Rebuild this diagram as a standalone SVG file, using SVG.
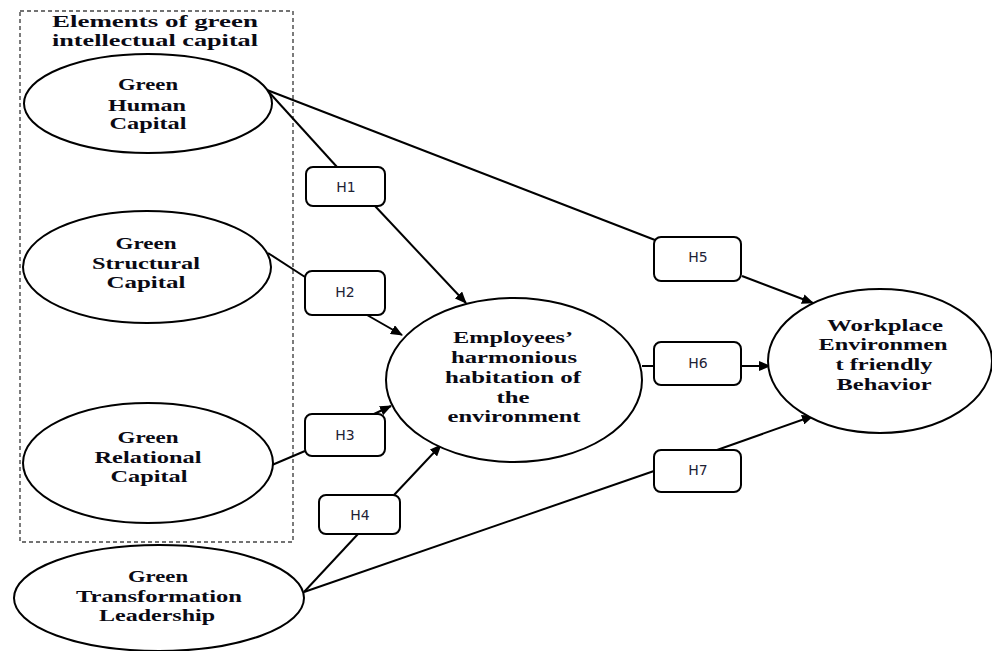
<svg xmlns="http://www.w3.org/2000/svg" width="992" height="651" viewBox="0 0 992 651">
<style>
.bg{fill:#fff}
.ell{fill:#fff;stroke:#000;stroke-width:2}
.box{fill:#fff;stroke:#000;stroke-width:2}
.lbl{font-family:"Liberation Serif","Times New Roman",serif;font-weight:bold;font-size:17px;fill:#0a0a14;text-anchor:middle}
.h{font-family:"DejaVu Sans","Liberation Sans",sans-serif;font-size:14px;fill:#1e2235;text-anchor:middle}
.con{fill:none;stroke:#000;stroke-width:2}
.group{fill:none;stroke:#444;stroke-width:1.4;stroke-dasharray:4 3}
</style>
<defs>
<marker id="arr" markerUnits="userSpaceOnUse" markerWidth="12" markerHeight="10" refX="11" refY="5" orient="auto">
<path d="M0,0 L12,5 L0,10 Z" fill="#000"/>
</marker>
</defs>
<rect class="bg" x="0" y="0" width="992" height="651"/>

<g id="group-box">
<rect class="group" x="20" y="11" width="273" height="531"/>
<text class="lbl" x="155" y="27" font-size="18" textLength="206" lengthAdjust="spacingAndGlyphs">Elements of green</text>
<text class="lbl" x="155" y="46" font-size="18" textLength="206" lengthAdjust="spacingAndGlyphs">intellectual capital</text>
</g>

<g id="connectors">
<line class="con" x1="267" y1="90" x2="337" y2="167"/>
<line class="con" x1="375" y1="206" x2="466" y2="303" marker-end="url(#arr)"/>
<line class="con" x1="267" y1="90" x2="655" y2="240"/>
<line class="con" x1="742" y1="276" x2="813" y2="303" marker-end="url(#arr)"/>
<line class="con" x1="268" y1="253" x2="305" y2="277"/>
<line class="con" x1="367" y1="315" x2="402" y2="335" marker-end="url(#arr)"/>
<line class="con" x1="272" y1="465" x2="305" y2="451"/>
<line class="con" x1="374" y1="414" x2="391" y2="406" marker-end="url(#arr)"/>
<line class="con" x1="304" y1="592" x2="358" y2="534"/>
<line class="con" x1="394" y1="495" x2="441" y2="445" marker-end="url(#arr)"/>
<line class="con" x1="304" y1="592" x2="654" y2="471"/>
<line class="con" x1="717" y1="450" x2="813" y2="416" marker-end="url(#arr)"/>
<line class="con" x1="642" y1="366" x2="654" y2="366"/>
<line class="con" x1="741" y1="366" x2="770" y2="366" marker-end="url(#arr)"/>
</g>

<g id="green-human-capital">
<ellipse class="ell" cx="148" cy="103.5" rx="124" ry="49.5"/>
<text class="lbl" x="148" y="90" textLength="60" lengthAdjust="spacingAndGlyphs">Green</text>
<text class="lbl" x="147" y="111" textLength="78" lengthAdjust="spacingAndGlyphs">Human</text>
<text class="lbl" x="148" y="129" textLength="77" lengthAdjust="spacingAndGlyphs">Capital</text>
</g>

<g id="green-structural-capital">
<ellipse class="ell" cx="147" cy="267" rx="124" ry="56"/>
<text class="lbl" x="146" y="249" textLength="61" lengthAdjust="spacingAndGlyphs">Green</text>
<text class="lbl" x="146" y="269" textLength="108" lengthAdjust="spacingAndGlyphs">Structural</text>
<text class="lbl" x="146" y="288" textLength="79" lengthAdjust="spacingAndGlyphs">Capital</text>
</g>

<g id="green-relational-capital">
<ellipse class="ell" cx="148" cy="463" rx="125" ry="60"/>
<text class="lbl" x="148" y="443" textLength="61" lengthAdjust="spacingAndGlyphs">Green</text>
<text class="lbl" x="148" y="463" textLength="107" lengthAdjust="spacingAndGlyphs">Relational</text>
<text class="lbl" x="149" y="482" textLength="77" lengthAdjust="spacingAndGlyphs">Capital</text>
</g>

<g id="green-transformation-leadership">
<ellipse class="ell" cx="159" cy="598" rx="145" ry="53"/>
<text class="lbl" x="158" y="582" textLength="60" lengthAdjust="spacingAndGlyphs">Green</text>
<text class="lbl" x="159" y="602" textLength="166" lengthAdjust="spacingAndGlyphs">Transformation</text>
<text class="lbl" x="157" y="621" textLength="116" lengthAdjust="spacingAndGlyphs">Leadership</text>
</g>

<g id="employees-harmonious-habitation">
<ellipse class="ell" cx="514" cy="380" rx="128" ry="82"/>
<text class="lbl" x="513" y="343" textLength="120" lengthAdjust="spacingAndGlyphs">Employees’</text>
<text class="lbl" x="514" y="363" textLength="126" lengthAdjust="spacingAndGlyphs">harmonious</text>
<text class="lbl" x="513" y="383" textLength="136" lengthAdjust="spacingAndGlyphs">habitation of</text>
<text class="lbl" x="513" y="403" textLength="33" lengthAdjust="spacingAndGlyphs">the</text>
<text class="lbl" x="514" y="422" textLength="133" lengthAdjust="spacingAndGlyphs">environment</text>
</g>

<g id="workplace-behavior">
<ellipse class="ell" cx="880" cy="361" rx="112" ry="72"/>
<text class="lbl" x="885" y="331" textLength="116" lengthAdjust="spacingAndGlyphs">Workplace</text>
<text class="lbl" x="883" y="350" textLength="129" lengthAdjust="spacingAndGlyphs">Environmen</text>
<text class="lbl" x="884" y="370" textLength="97" lengthAdjust="spacingAndGlyphs">t friendly</text>
<text class="lbl" x="884" y="390" textLength="95" lengthAdjust="spacingAndGlyphs">Behavior</text>
</g>

<g id="h1"><rect class="box" x="306" y="167" width="79" height="39" rx="7"/><text class="h" x="346" y="192">H1</text></g>
<g id="h2"><rect class="box" x="305" y="271" width="80" height="44" rx="7"/><text class="h" x="345" y="297">H2</text></g>
<g id="h3"><rect class="box" x="305" y="414" width="80" height="42" rx="7"/><text class="h" x="345" y="440">H3</text></g>
<g id="h4"><rect class="box" x="319" y="495" width="81" height="39" rx="7"/><text class="h" x="360" y="520">H4</text></g>
<g id="h5"><rect class="box" x="654" y="237" width="87" height="44" rx="7"/><text class="h" x="698" y="262">H5</text></g>
<g id="h6"><rect class="box" x="654" y="342" width="87" height="43" rx="7"/><text class="h" x="698" y="368">H6</text></g>
<g id="h7"><rect class="box" x="654" y="450" width="87" height="42" rx="7"/><text class="h" x="698" y="475">H7</text></g>
</svg>
